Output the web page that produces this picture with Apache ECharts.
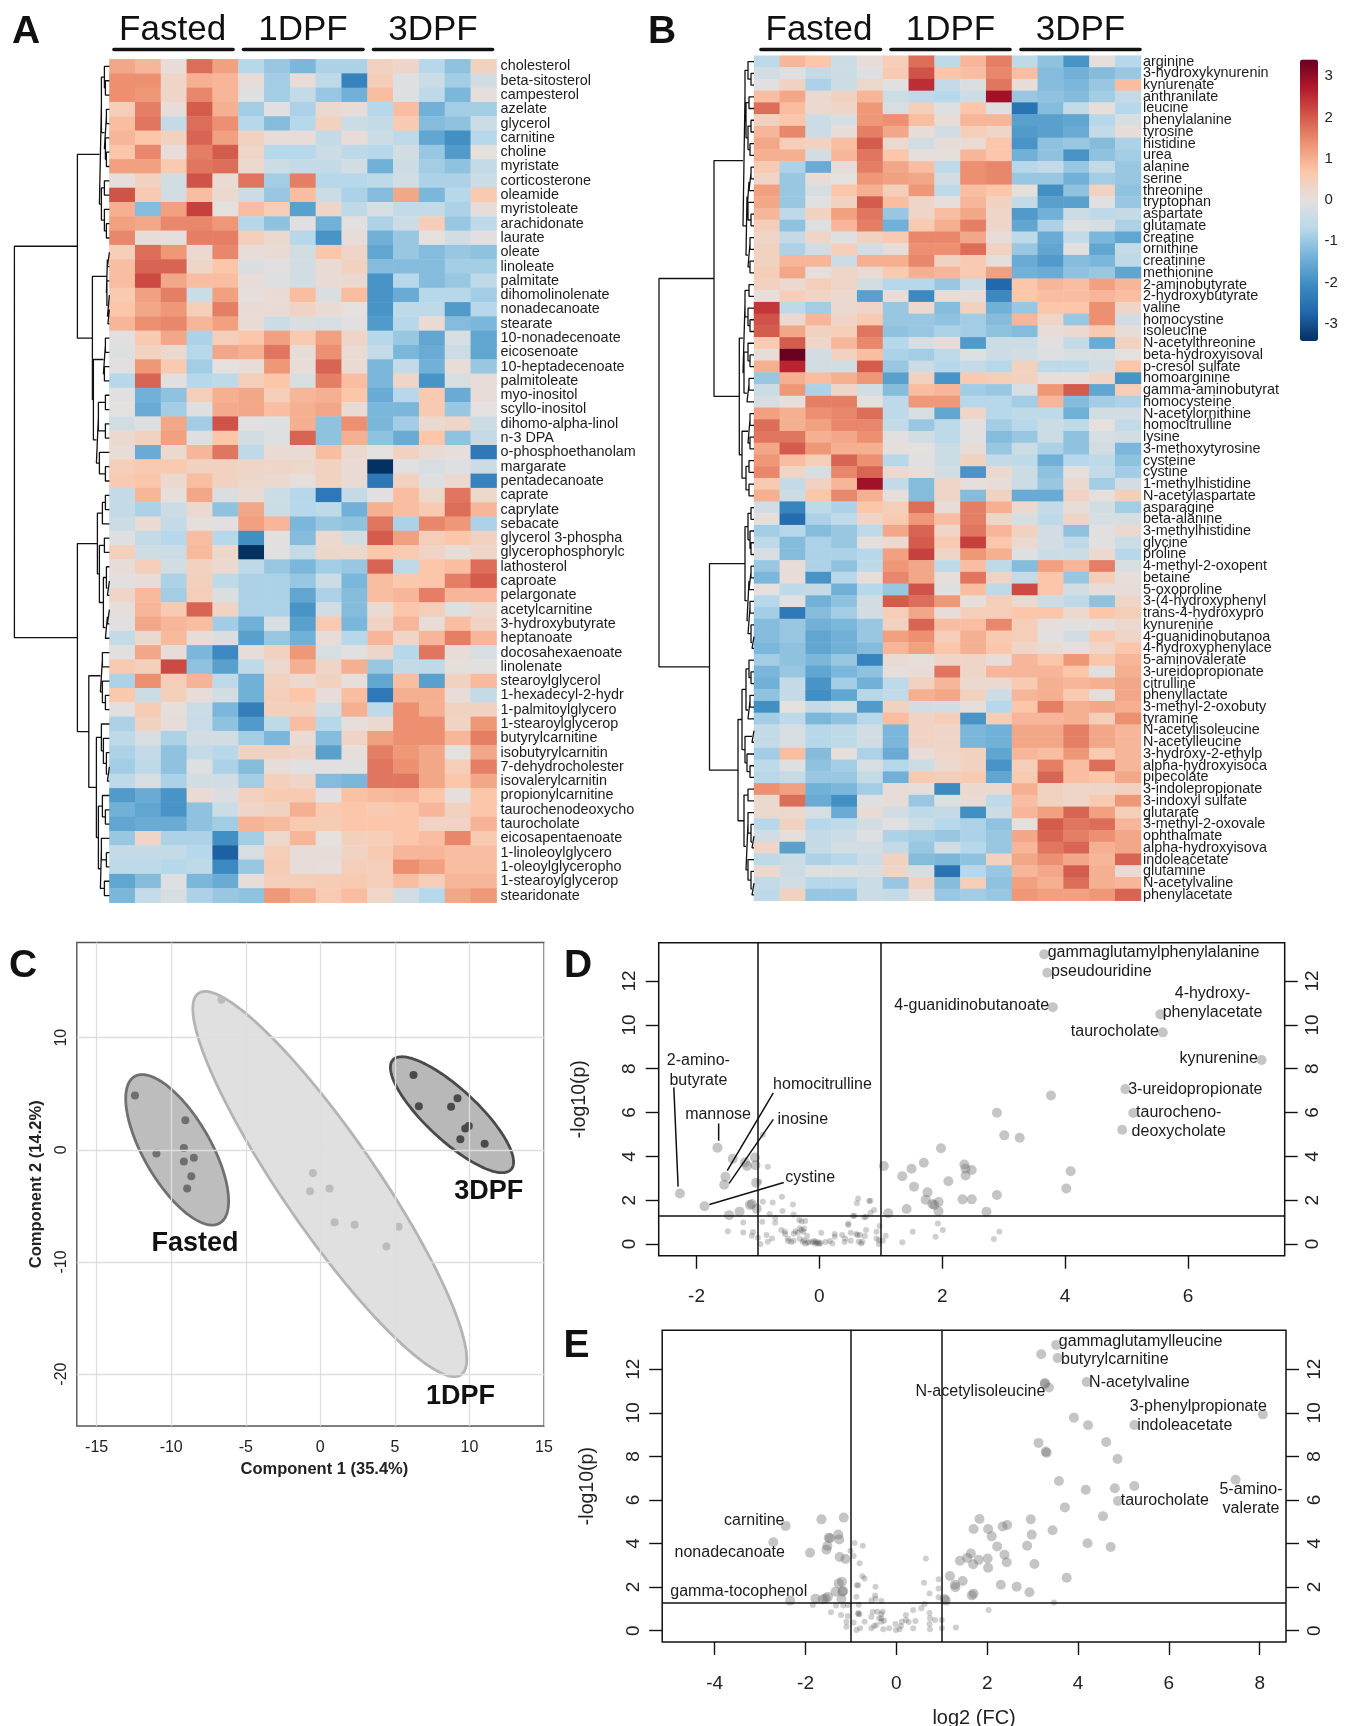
<!DOCTYPE html>
<html><head><meta charset="utf-8">
<style>html,body{margin:0;padding:0;background:#fff}#c{width:1351px;height:1726px}</style>
<script src="https://cdn.jsdelivr.net/npm/echarts@6/dist/echarts.min.js"></script>
</head><body><div id="c"></div>
<script>
const FONT='"Liberation Sans",Arial,sans-serif';
const colorStops=['#053061','#2166ac','#3d8cc2','#74b3d8','#b9d9ea','#e4e0de','#fbc7ab','#ee9373','#d2584a','#b2182b','#67001f'];
const groups=['Fasted','1DPF','3DPF'];
const rowsA=['cholesterol','beta-sitosterol','campesterol','azelate','glycerol','carnitine','choline','myristate','corticosterone','oleamide','myristoleate','arachidonate','laurate','oleate','linoleate','palmitate','dihomolinolenate','nonadecanoate','stearate','10-nonadecenoate','eicosenoate','10-heptadecenoate','palmitoleate','myo-inositol','scyllo-inositol','dihomo-alpha-linol','n-3 DPA','o-phosphoethanolam','margarate','pentadecanoate','caprate','caprylate','sebacate','glycerol 3-phospha','glycerophosphorylc','lathosterol','caproate','pelargonate','acetylcarnitine','3-hydroxybutyrate','heptanoate','docosahexaenoate','linolenate','stearoylglycerol','1-hexadecyl-2-hydr','1-palmitoylglycero','1-stearoylglycerop','butyrylcarnitine','isobutyrylcarnitin','7-dehydrocholester','isovalerylcarnitin','propionylcarnitine','taurochenodeoxycho','taurocholate','eicosapentaenoate','1-linoleoylglycero','1-oleoylglyceropho','1-stearoylglycerop','stearidonate'];
const heatA=[
[1.1,.9,.1,1.8,1.2,-.7,-1,-1.3,-.8,-.8,.4,.3,-.7,-1.1,.4],
[1.4,1.4,.3,1,.9,.1,-.9,.1,-.6,-2.2,.5,-.1,-.4,-.9,-.3],
[1.4,1.3,.3,1.5,.9,-.1,-.9,-.5,-1,-1.4,.8,-.1,-.6,-1.3,.05],
[.5,1.6,.1,2,1,-.9,-.05,-.8,.2,.1,-.7,.8,-1.4,-.9,-.9],
[.8,1.7,-.5,1.8,1.4,-.7,-1.2,-.7,.4,-.4,-.5,.6,-1.2,-1.1,-.4],
[.9,.7,.4,1.9,1.2,.4,.1,.1,-.5,.1,-.4,-.6,-1.6,-2,-.7],
[.7,1.5,.1,1.6,2,.3,-.7,-.7,-.4,-.6,-.7,-.3,-1,-1.8,0],
[1.2,1.2,.6,1.7,1.8,.2,-.4,-.5,-.5,-.3,-1.4,-.4,-.9,-1.1,-.5],
[.05,.4,-.3,2.1,.15,1.7,-.9,1.6,-.7,-.7,-.6,-.3,-.8,-.8,-.4],
[2.1,.6,-.3,.8,.2,-.4,-1,.8,-.4,-.8,-1.2,1.1,-1.3,-.7,.6],
[1,-1.2,1.2,2.3,0,.8,.5,-1.7,.3,-.6,-.2,-.5,-.5,-.8,.1],
[1.2,1.1,1.5,1.5,1.3,-.7,-1.1,-.05,-1.4,-.05,-.8,-.4,.5,-1,-.6],
[1.5,.1,.05,1.6,1.6,.5,.2,-.7,-1.9,.1,-1.4,-1,0,-.3,-.05],
[.5,1.8,1.3,.2,1.5,.1,.15,-.3,.7,.3,-1.6,-1,-1.2,-1,-1.1],
[.8,1.9,1.9,.3,.7,-.15,-.05,-.3,.15,.4,-1.2,-1.2,-1.2,-.9,-.9],
[.8,2.2,1.1,.8,.8,.1,-.1,-.3,.15,.2,-1.9,-.7,-1.2,-1,-.6],
[.6,1.2,1.6,-.4,1.2,.05,.15,.8,-.15,.8,-1.9,-1.5,-.7,-.7,-.9],
[.7,1.1,1.3,.5,1.6,.15,.15,.35,.15,.02,-1.9,-.6,-.6,-1.8,-.7],
[.9,1.4,1.5,.9,1.2,.15,-.4,-.15,-.2,-.05,-1.8,-.7,.15,-1.2,-1.3],
[-.05,.6,1.1,-.8,.5,.7,1.2,.6,1.2,.3,-.7,-1,-1.6,-.2,-1.6],
[-.1,.4,.2,-.7,1.1,1,1.7,.1,1.4,.15,-.5,-1.3,-1.5,-.4,-1.6],
[-.05,1.3,.6,-.9,0,.1,1.3,.1,1.9,.15,-1.3,-.5,-1.4,.1,-1],
[-.7,1.9,-.05,-.7,-.6,.5,.7,-.2,1.6,.8,-1.3,.3,-1.9,-.2,.1],
[-.05,-1.4,-1.1,.5,1,1.1,.5,.9,1,.7,-1.5,-.7,.6,-1.5,.1],
[0,-1.5,-.9,-.1,1.05,1.1,.8,1,1.1,.15,-1.3,-1.3,.6,-1,0],
[-.3,-.1,1.1,-.9,2.1,-.05,-.1,1,-1.1,1.4,-1.3,-.9,.2,.3,-.4],
[.2,.4,1.2,-.1,.7,-.3,-.1,1.9,-1.1,1,-1.1,-1.5,.7,-1.1,-.5],
[.1,-1.5,.2,.9,1.7,-.6,.15,.15,.8,.2,0,.4,.15,.05,-2.4],
[.5,.6,.6,.4,.4,.3,.3,.25,.4,.15,-3.4,-.05,-.2,-.1,-.4],
[.6,.7,.2,.8,.4,.25,.2,.05,.4,.15,-2.4,.4,-.1,.2,-2.2],
[-.5,.9,.05,1.1,-.15,.15,-.4,-.7,-2.4,-.5,-.05,.8,.25,1.7,.25],
[-.5,-.8,-.4,.2,-1.1,1.1,-.4,-.7,-.6,-1.4,1,.8,.6,1.8,.9],
[-.4,.15,-.5,.05,-.05,1.2,.9,-1.3,-1,-1.1,1.7,-.8,1.5,1.3,-.8],
[-.1,-.5,-.7,.8,-.7,-2,-.05,-1.2,.2,-.3,2,1.2,.5,.7,.4],
[.45,-.35,-.4,.85,.25,-3.4,-.05,-.5,.25,.25,.7,.6,.35,.1,.3],
[.1,.5,-.3,.4,.2,-.6,-1,-1.3,-.9,-1,1.9,-.6,.7,.8,1.8],
[-.05,.1,-.8,.45,-.6,-.8,-.8,-1,-.4,-1.3,.8,.65,.7,1.6,2],
[.3,.85,-.9,.5,-.15,-.8,-.8,-1.6,-.8,-1.2,.8,.9,1.6,.9,.9],
[.05,.9,.6,1.9,.35,-.8,-.8,-1.9,-.3,-1.2,.15,.7,.5,-.1,.2],
[-.05,1.1,.9,.8,-.9,-1.4,-.2,-1.7,.6,-1.3,.35,.9,.1,.8,.35],
[-.5,.2,.85,.1,-.15,-1.7,-1,-1.4,.1,-.7,.9,.3,.9,1.6,.9],
[-.05,1.1,.1,-1.3,-2.1,.1,.4,1.3,-.2,-.05,.3,-.7,1.7,.1,-.2],
[.6,.45,2.2,-1.1,-1.7,-.6,.2,1,.3,1,-1,-.5,-.6,.03,-.03],
[-.8,1.4,.5,.95,-.6,-1.4,.4,.2,.4,.05,-1.6,.8,-1.7,.4,.85],
[.65,-.4,.45,.1,-.3,-1.4,.5,.7,.1,.8,-2.4,1,1,.1,-.5],
[-.05,.55,.05,-.4,-1.3,-2.3,.45,.45,-.3,1,-.6,1.4,1,.4,.4],
[-.8,.4,.1,-.45,-1.1,-1.8,-.6,.8,-.7,.05,.2,1.4,1.4,.35,1.3],
[-.6,-.2,-.8,-.3,-.3,-.9,-1.3,.15,-1.2,.35,1.2,1.4,1.4,.9,1.6],
[-.8,-.5,-1.1,-.5,-.7,.4,.4,.3,-1.7,.05,1.6,1.3,1.1,0,1.1],
[-.9,-.6,-1.1,-.1,-.8,-1.2,.1,-.05,-.05,-.05,1.7,1.4,1.1,.5,1.6],
[-.6,-.2,-.8,-.3,-.3,-.9,.45,.3,-1.2,-1.3,1.7,1.7,1.1,.7,1.1],
[-1.8,-1.5,-1.9,.15,-.15,.4,.6,.6,-.05,.75,.85,.9,.7,.05,.7],
[-1.4,-1.6,-1.9,-1.1,-.4,.3,.4,1,.6,.7,.6,.7,.9,.4,.7],
[-1.6,-1.5,-1.5,-1.1,-.9,.95,.85,.6,.55,.7,.7,.7,.35,.35,.95],
[-1,.3,-.8,-.8,-2,-.9,.25,.9,0,.45,.5,.7,.8,1.5,.6],
[-.5,-.5,-.5,-.7,-2.8,-.2,.5,.1,.1,.35,.6,.9,.9,.8,.8],
[-.6,-.6,-.7,-.6,-2.1,-1,.55,.1,.05,.5,.5,1.4,1.2,.8,.8],
[-1.6,-1.2,-.1,-1.3,-1.5,.1,.5,.5,.55,.6,.5,.8,.5,.9,.9],
[-1.3,-.5,-.2,-.8,-1,-1.1,1.3,1,.6,.8,.3,-.3,-.7,1.1,1.3]];
const rowsB=['arginine','3-hydroxykynurenin','kynurenate','anthranilate','leucine','phenylalanine','tyrosine','histidine','urea','alanine','serine','threonine','tryptophan','aspartate','glutamate','creatine','ornithine','creatinine','methionine','2-aminobutyrate','2-hydroxybutyrate','valine','homocystine','isoleucine','N-acetylthreonine','beta-hydroxyisoval','p-cresol sulfate','homoarginine','gamma-aminobutyrat','homocysteine','N-acetylornithine','homocitrulline','lysine','3-methoxytyrosine','cysteine','cystine','1-methylhistidine','N-acetylaspartate','asparagine','beta-alanine','3-methylhistidine','glycine','proline','4-methyl-2-oxopent','betaine','5-oxoproline','3-(4-hydroxyphenyl','trans-4-hydroxypro','kynurenine','4-guanidinobutanoa','4-hydroxyphenylace','5-aminovalerate','3-ureidopropionate','citrulline','phenyllactate','3-methyl-2-oxobuty','tyramine','N-acetylisoleucine','N-acetylleucine','3-hydroxy-2-ethylp','alpha-hydroxyisoca','pipecolate','3-indolepropionate','3-indoxyl sulfate','glutarate','3-methyl-2-oxovale','ophthalmate','alpha-hydroxyisova','indoleacetate','glutamine','N-acetylvaline','phenylacetate'];
const heatB=[
[-.6,.9,.7,-.4,.1,.5,1.8,-.6,.9,1.6,-.6,-1.1,-1.9,.05,-.7],
[-.3,-.1,-.5,-.4,-.1,.6,2.1,.7,.8,1.5,.8,-1.2,-1.4,-1.2,-1],
[-.05,.4,-.8,-.4,.25,-.05,2.5,-.5,-.15,1.7,.1,-1.2,-1.3,-1,.8],
[.8,1.1,.2,.4,.9,-.4,-.6,-.7,-.35,2.9,-1,-1.1,-1.2,-.9,-.5],
[1.8,.8,.2,.3,1.3,-.2,.5,-.1,.7,-.1,-2.5,-1.2,-.5,.05,-.7],
[.4,.7,-.4,-.2,1.3,1.4,.8,.1,.9,.9,-1.7,-1.7,-1.6,-.7,-.2],
[.9,1.5,-.4,.1,1.6,1.1,.1,-.3,.5,.3,-1.8,-1.7,-1.5,-.5,.1],
[1.1,.5,.4,.8,2,.2,-.3,.1,.15,.7,-1.9,-1.1,-1,-1.2,-.8],
[1,1,-.3,.9,1.7,.7,.05,.05,.9,.7,-1.4,-1.1,-1.9,-1.1,-.9],
[.6,-.8,-1.5,.1,1.6,1.1,.8,-.6,1.4,1.5,-.7,-.5,-1,-.5,-1],
[.3,-1,.1,0,1.3,1.2,1.1,-.3,1.4,1.5,-1,-1,-1.4,-.9,-1],
[1.2,-1,-.2,.7,1,.5,1.3,-.6,.8,.7,.05,-2,-1.1,.4,-1.1],
[1.1,-1,-.05,.4,2,.8,.3,.05,.9,.4,-.5,-1.7,-1.7,-.05,-1],
[.9,-.6,.4,1.2,1.7,-1,.3,.8,1.1,.3,-1.8,-1.4,-.4,-.6,-.5],
[.5,-1.1,-.1,.9,1.6,-1.4,.6,1,1.6,.3,-1.6,-.8,-.1,-.2,-.8],
[.3,-.5,.3,-.1,.4,.6,1.5,1.5,1.1,.1,-.6,-1.5,-.5,-1.3,-1.6],
[.4,-.8,-.3,.5,-.3,.1,1.4,1.4,1.8,.4,-1,-1.6,-.05,-1.6,-.5],
[.4,.9,.9,-.4,1,1,1.5,.4,.6,.05,-1.5,-1.8,-1.2,-1.3,-.6],
[.5,1.1,.05,.3,.15,.6,1,.9,.6,1.2,-1.4,-1.5,-1.1,-1,-1.6],
[.4,.2,.5,.3,-.3,-.7,-.7,-1,-.4,-2.7,.7,.9,.8,1.2,.9],
[.05,.5,.3,.2,-1.7,.1,-2.1,.1,.1,-2.1,.7,.8,.8,.9,.8],
[2.4,-.6,-.9,.2,.3,-1,.2,-1.2,.4,-1.4,-1,.7,.7,1.4,.3],
[2.1,.2,.9,.3,.6,-1,-1,-1.1,-.9,-1.2,.9,.3,-1,1.4,-.3],
[2,1.1,.4,.5,1.7,-1.1,-1,-.8,-.9,-1.1,-1.2,.1,.2,.6,.1],
[.6,2,.3,.9,1.5,-.7,-.2,.1,-1.8,-.4,-.4,-.05,-.5,-1.5,.4],
[.1,3.4,-.3,.4,.8,-.8,-.9,-.6,-.1,-.4,-.3,-.1,-.2,-.2,0],
[1,2.6,-.3,-.3,2,-1,-.4,-.7,-.5,-.7,.4,-.6,-.6,-.3,.7],
[-1,1,.8,1,1.3,-1.7,.4,-1.9,.6,.5,.4,.05,.05,.3,-1.9],
[-.4,1.3,-.8,.3,-.3,-1.2,.8,.9,-.9,-1,-.2,1.3,2,-1.6,.5],
[-.2,0,1.6,1.6,0,-.6,1.3,1.3,-.7,-.7,-.9,.9,-1.2,-.9,-.8],
[1.2,1,1.4,1.5,1.8,-.6,-.2,-1.6,.3,-.7,-.6,-.6,-1.4,-.3,-.3],
[1.8,1,1.2,1.5,1.5,-.5,-1,-.6,-.05,-.9,-.7,-.4,-.6,.02,-.5],
[1.7,1.7,1,1.1,1.4,-.05,-.3,-.6,-.05,-1.2,-1,-.4,-1.1,-.2,-.3],
[1.1,2,1.3,1,1,.05,-.02,-.4,.1,-1,-.4,-.8,-1.1,-.3,-1.3],
[1.3,.8,.5,1.9,1.4,-.7,-.05,-.4,.4,-.5,-.6,-1.4,-.7,-.6,-1.1],
[1.5,.3,-.2,1.5,1.9,.2,.05,-.3,-1.9,.2,-.4,-1.1,.05,-.5,-.9],
[.6,-.5,.4,.9,2.9,-.5,-1.2,.3,.05,.1,-.4,-1,.2,-.9,-.3],
[1,-.4,.7,1.5,1,.05,-1.2,.3,-1.2,.4,-1.5,-1.5,.35,.05,.5],
[-.3,-2.2,-.6,-.8,.7,.5,1.8,.1,1.6,1,.2,-.5,.1,-.3,-.9],
[.05,-2.6,-.8,-.6,.3,.6,1.3,.8,1.6,.3,-.2,-.6,.3,-.2,-.2],
[-.9,-.7,-1.2,-1,-.6,1.1,1.9,.3,1.7,.9,.4,-.3,-1.1,-.05,.2],
[-.6,-1.2,-.8,-1,.05,.2,2,.6,2.3,.7,.2,-.3,-.6,-.05,-.4],
[-.2,-1.2,-.8,-.8,-.7,1.2,2.3,.3,1.3,1,-.1,-.4,-.4,.2,-.7],
[-1,.1,-.8,-1.1,-.6,1.3,1.1,-.6,.8,-.6,-1.2,1.2,.9,1.6,-.2],
[-1.3,.1,-1.9,-.7,.05,1.5,1.1,.05,1.7,.35,-.5,.7,-1,.5,.05],
[.02,-.6,-.5,-1.4,-.7,-1,2.1,-.1,.8,-.6,2.2,.7,-.3,.1,.1],
[-.7,-.05,-1.4,-1.1,-.3,2,1.8,1.3,.05,.5,.2,-.4,-.6,-1.1,.3],
[-.9,-2.4,-1.2,-.9,-.3,.5,1.1,.1,.5,.5,.7,.7,.2,.7,.5],
[-1.2,-1,-1.4,-1.3,-1,.4,1.9,.8,.8,1.5,.5,.05,-.03,.03,.2],
[-1.2,-1,-1.6,-1.4,-1,1.2,1.4,.5,1,.6,.5,-.05,-.3,.6,.3],
[-1.3,-1.1,-1.6,-1.4,-1.2,.9,1.2,.7,1,.7,.3,.15,.05,.3,.7],
[-.9,-1.1,-1.3,-1,-2.2,.15,.05,.3,.3,.1,.9,.7,1.3,.7,.9],
[-1.3,-1,-1.6,-1.3,-1.1,.05,.1,1.7,.3,.9,.9,.9,.7,-.05,1],
[-1.4,-.5,-1.9,-.9,-1.4,-.6,.4,.9,.2,.2,.6,1,.9,1,1.1],
[-1.1,-.5,-2,-1.6,-.7,-.5,1,1.1,.4,-.4,.9,1,.6,.1,1.1],
[-2,0,-.5,-.2,-1.8,.4,-.3,-.3,.05,-.7,.7,1.6,1,1.1,1],
[-.9,-.6,-1.3,-1.1,-.7,.8,.35,.5,-1.9,.5,.9,.9,1,.5,1.4],
[-.5,-.2,-.7,-.6,-.3,-1.3,.35,.3,-1.3,-1.4,1.1,1.1,1.6,1.1,.9],
[-.5,-.2,-.7,-.6,-.3,-1.3,.35,.3,-1.3,-1.4,1.1,1.1,1.6,1.1,.9],
[-.9,.8,-1.2,.05,-.8,-1.5,.1,.3,.4,-1.6,.9,.8,1.3,.6,.9],
[-.6,-.1,-1.1,-.9,-.2,-.7,-.4,.2,.4,-1.9,.5,1.6,.8,1.8,.9],
[-.7,-.5,-1,-1,-.5,-1.4,.6,.5,.6,-1.6,.6,1.9,.8,.7,1.1],
[1.4,1.2,-1.4,-1.3,-.9,.1,.05,-2.1,.2,.2,1,.4,.3,.3,.4],
[.2,1.8,-1.5,-2,-.1,.1,-1,-.1,.15,-.6,.8,.4,.3,.6,1.3],
[.2,.25,-.2,-1.5,.15,-.3,-.6,-.5,-2,-.4,.9,1.2,1.9,1.2,.5],
[-.7,.4,-.7,-.6,-.3,-.05,-.4,-.7,-.8,-1.1,.05,2,1.7,1.8,.9],
[-.3,.05,-.5,-.4,-.1,-.8,-.9,-1,-.8,-1,1.1,1.9,1.6,1.4,1.1],
[.3,-1.7,-.5,-.3,-.3,-.5,-1,-.3,-.7,-1,.9,1.7,1.9,1,1.1],
[-.6,-.4,-.8,-.7,-.4,.4,-1.2,-1.3,-1.1,.4,1.1,1.4,1.1,.9,1.9],
[.2,-.4,-.1,-.1,-.2,.3,-.2,-2.5,-.7,-1,.9,1.1,2,1,.15],
[-.5,-.3,-.7,-.7,-.4,-1,.4,-1.2,.5,-1.1,1.2,1,1.8,1,.9],
[-.6,.4,-1,-1,-.4,-.5,.1,-1,-.9,-1,1.3,1.2,1.2,1.3,1.9]];
// dendrograms: nodes are [height, left, right], 0 is a leaf
const treeA=[95,
 [32,
  [10,[8,[5,0,[4,0,0]],[5,[3,0,0],[4,0,[3,0,0]]]],[8,[5,0,0],[5,0,[3,0,0]]]],
  [17,[3,[2,0,0],[2.5,0,[2,0,[1.5,0,0]]]],[16,[6,[4,0,0],[5,0,0]],[13,[11,[4,0,0],[4,0,0]],[10,0,[4,0,0]]]]]],
 [32,
  [12,[7,[4,0,0],0],[10,[5,0,0],[6,[3,0,[2,0,0]],[4,[2,0,0],0]]]],
  [20.6,[9,[7,0,0],[7,0,[4,0,0]]],[13,[8,0,[6,0,[3,0,[2,0,0]]]],[11,[7,0,[4,0,0]],[9,[8,0,[3,0,0]],[5,0,0]]]]]]];
const treeB=[95,
 [40,
  [11,[9,[6,0,[3,0,0]],[8,[5,0,0],[6,[3,0,0],[4,0,0]]]],[8,[7,[5,[3,0,0],0],[6,0,[3,0,0]]],[6,[4,0,0],[4,0,0]]]],
  [14.7,[11,[9,[5,0,0],[6,0,[4,0,0]]],[10,[6,0,[4,0,0]],[7,[5,0,0],0]]],[12,[6,[4,0,0],[4,0,0]],[8,[5,0,0],[5,0,0]]]]],
 [44.5,
  [9,[6,[3,0,0],[4,0,[3,0,0]]],[7,[5,[3,0,0],0],[6,[4,0,0],[3,0,[2,0,0]]]]],
  [16,[12,[8,[5,0,[3,0,0]],[6,[4,0,0],0]],[9,[2,0,0],[7,0,[4,0,0]]]],[10,[6,0,0],[8,[6,0,[3,0,[2,0,0]]],[6,0,[3,0,[2,0,0]]]]]]]];
// PCA scores
const pcaFasted=[[-12.43,4.84],[-9.05,2.64],[-9.15,.16],[-10.99,-.32],[-9.15,-1.05],[-8.48,-.7],[-8.65,-2.35],[-8.93,-3.44]];
const pca1DPF=[[-6.63,13.39],[-.5,-2.07],[-.69,-3.69],[.62,-3.44],[.96,-6.46],[2.3,-6.68],[5.25,-6.87],[4.43,-8.62]];
const pca3DPF=[[6.25,6.68],[6.61,3.88],[8.77,3.85],[9.2,4.61],[9.96,2.13],[9.72,1.91],[9.39,.95],[11.02,.54]];
// ellipses: centre x, centre y, half-width, half-height, correlation
const ellFasted=[-9.6,0,3.45,6.71,-.68];
const ell1DPF=[.635,-3.05,9.185,17.18,-.91];
const ell3DPF=[8.83,3.13,4.13,5.17,-.816];
const pcaXTicks=[-15,-10,-5,0,5,10,15], pcaYTicks=[-20,-10,0,10];
// volcano D
const dSig=[[3.66,13.22],[3.71,12.38],[3.8,10.81],[5.55,10.48],[5.59,9.66],[7.2,8.4],[4.98,7.07],[5.11,5.98],[4.93,5.22],[3.77,6.78],[2.89,5.99],[3.01,4.96],[3.26,4.85],[1.98,4.37],[4.09,3.32],[4.02,2.54],[1.7,3.71],[1.5,3.44],[1.05,3.56],[1.35,3.1],[2.36,3.63],[2.38,3.44],[2.48,3.38],[2.38,3.13],[2.1,2.87],[1.54,2.62],[1.76,2.36],[1.73,2.02],[1.94,1.92],[1.84,1.83],[1.87,1.78],[2.33,2.04],[2.48,2.04],[2.89,2.24],[1.42,1.6],[1.94,1.5],[2.72,1.48],[1.12,1.41],[-2.27,2.31],[-1.87,1.73],[-1.66,4.4],[-1.53,3.07],[-1.55,2.71],[-1.41,3.89],[-1.21,3.73],[-1.18,3.56],[-1.05,3.95],[-1.04,3.6],[-1.03,2.8],[-1.1,1.83],[-1.13,1.78],[-1.02,1.61],[-1.3,1.48],[-1.47,1.32]];
const dNon=[[-.84,3.53],[-.92,4.99],[-.98,2.84],[-.92,1.93],[-.76,1.9],[-.61,2.16],[-.43,1.81],[-.6,1.51],[-.42,1.35],[-.81,1.37],[-.72,1.2],[-.93,1.02],[-.72,.97],[-1.24,.99],[-.33,1.1],[-.29,1.03],[-.23,1.05],[-1.49,.58],[-1.24,.53],[-1.08,.55],[-1.1,.38],[-1,.29],[-.86,.41],[-.77,.26],[-.84,.11],[-.96,0],[-.62,.64],[-.56,.56],[-.56,.46],[-.51,.26],[-.39,.59],[-.32,.71],[-.29,.64],[-.25,.71],[-.42,.47],[-.35,.52],[-.26,.56],[-.2,.37],[-.51,.14],[-.46,.09],[-.42,.15],[-.32,.24],[-.25,.18],[-.23,.03],[-.17,.11],[-.11,.08],[-.06,.11],[-.02,.08],[.02,.05],[-.09,.14],[.1,.09],[.17,.14],[.21,.03],[.03,.52],[.25,.46],[.25,.33],[.37,.41],[.42,.26],[.41,.09],[.51,.15],[.64,.11],[.68,.03],[.62,.41],[.51,.52],[.47,.87],[.47,.94],[.55,1.28],[.57,1.29],[.73,1.22],[.76,1.25],[.61,1.86],[.63,2.08],[.81,1.96],[.83,1.98],[.89,1.55],[.83,1.43],[.98,.82],[.93,.56],[.93,.26],[.97,.18],[1.08,.38],[.97,0],[1.03,.15],[1.35,.08],[1.52,.56],[1.89,.33],[1.93,.94],[2.01,.64],[2.84,.23],[2.93,.56],[.74,.37],[.76,.64],[.66,.41],[.6,.46],[.7,.11],[-.27,.11],[-.19,.06],[-.07,.03],[-.03,.03],[0,.02]];
const dLabels=[['gammaglutamylphenylalanine',5.44,13.31],['pseudouridine',4.59,12.44],['4-hydroxy-',6.4,11.44],['phenylacetate',6.4,10.54],['taurocholate',4.81,9.69],['4-guanidinobutanoate',2.48,10.86],['kynurenine',6.5,8.47],['3-ureidopropionate',6.12,7.04],['taurocheno-',5.85,5.99],['deoxycholate',5.85,5.14],['2-amino-',-1.97,8.35],['butyrate',-1.97,7.47],['mannose',-1.65,5.92],['homocitrulline',.05,7.29],['inosine',-.27,5.69],['cystine',-.15,3.03]];
const dLeaders=[[[-2.37,7.15],[-2.3,2.62]],[[-1.64,5.5],[-1.64,4.71]],[[-.75,6.9],[-1.5,3.35]],[[-.75,5.69],[-1.47,2.77]],[[-.58,2.81],[-1.79,1.81]]];
const dXTicks=[-2,0,2,4,6], volY=[0,2,4,6,8,10,12];
// volcano E
const eSig=[[3.52,13.12],[3.55,12.52],[3.19,12.69],[3.27,11.37],[3.27,11.33],[3.36,11.16],[4.19,11.42],[8.07,9.93],[5.24,9.44],[3.91,9.78],[4.22,9.43],[4.62,8.66],[3.13,8.62],[3.29,8.22],[3.31,8.17],[4.87,7.88],[7.47,6.93],[3.58,6.87],[4.17,6.47],[4.81,6.54],[5.24,6.64],[4.88,5.95],[3.71,5.66],[4.55,5.25],[2.96,5.11],[1.83,5.13],[1.7,4.67],[2.02,4.67],[2.34,4.78],[2.44,4.85],[2.1,4.33],[2.98,4.41],[3.44,4.61],[4.21,4.01],[4.72,3.84],[2.88,3.9],[2.22,3.86],[1.64,3.54],[2.38,3.49],[1.56,3.34],[1.4,3.21],[1.81,3.25],[2.01,3.31],[1.69,3.05],[2.43,3.14],[3.04,3.06],[2.02,2.89],[3.75,2.43],[1.18,2.51],[1.46,2.28],[1.29,2.11],[1.3,1.99],[2.3,2.11],[2.65,2.02],[2.93,1.76],[1.7,1.7],[1.66,1.62],[1.06,1.45],[1.09,1.38],[-2.44,4.81],[-2.71,4.06],[-1.9,3.58],[-1.65,5.11],[-1.16,5.19],[-1.49,4.27],[-1.46,4.24],[-1.28,4.41],[-1.26,4.19],[-1.52,3.89],[-1.54,3.72],[-1.25,3.38],[-1.12,3.29],[-1.2,2.25],[-1.27,2.17],[-1.19,1.79],[-1.17,1.82],[-1.34,1.79],[-1.51,1.55],[-1.56,1.48],[-1.78,1.47],[-1.62,1.44],[-1.21,1.45],[-2.34,1.38]];
const eNon=[[-.92,4.03],[-.74,3.9],[-1.01,3.67],[-.94,3.43],[-.81,3.09],[-.75,2.5],[-.7,2.4],[-.87,2.08],[-.84,2.08],[-.46,2.02],[-.88,1.56],[-.47,1.61],[-.46,1.47],[-.55,1.38],[-.33,1.36],[-1.84,1.18],[-1.33,1.16],[-1.17,1.15],[-1.07,1.18],[-.83,1.19],[-1.44,.84],[-1.22,.72],[-1.07,.67],[-.84,.81],[-.81,.75],[-.52,.87],[-.42,.87],[-.3,.87],[-.33,.77],[-.55,.64],[-.33,.57],[-.27,.46],[.21,.72],[.37,.95],[.55,1.03],[.62,1.22],[.73,.81],[.74,.57],[.85,.49],[1,.49],[.73,.31],[.74,.06],[1,.11],[1.31,.15],[2.03,.95],[3.47,1.29],[.65,3.31],[.93,2.36],[.61,2.2],[.93,1.94],[.73,1.71],[.93,1.53],[-1.1,.41],[-1.1,.18],[-.94,.37],[-.88,.03],[-.8,.11],[-.7,.41],[-.55,.11],[-.49,.21],[-.44,.26],[-.29,.06],[-.16,.11],[-.01,.03],[.07,.06],[-.02,.31],[.1,.21],[.12,.41],[.21,.49],[.27,.4],[.42,.44],[.37,.11],[-.33,.41],[-.38,.57],[-.84,.77]];
const eLabels=[['gammaglutamylleucine',5.38,13.27],['butyrylcarnitine',4.81,12.46],['N-acetylisoleucine',1.85,10.99],['N-acetylvaline',5.35,11.37],['3-phenylpropionate',6.65,10.3],['indoleacetate',6.35,9.41],['taurocholate',5.91,5.97],['5-amino-',7.81,6.46],['valerate',7.81,5.6],['carnitine',-3.13,5.07],['nonadecanoate',-3.67,3.58],['gamma-tocophenol',-3.47,1.81]];
const eXTicks=[-4,-2,0,2,4,6,8];
const fcCut=[-1,1], pCut=1.3;
const barTicks=[-3,-2,-1,0,1,2,3];

const grids=[],xAxes=[],yAxes=[],series=[];
function addGrid(g,xa,ya){const i=grids.length;grids.push(Object.assign({containLabel:false,outerBoundsMode:'none'},g));
  xa=[].concat(xa);ya=[].concat(ya);
  xa.forEach(a=>xAxes.push(Object.assign({gridIndex:i},a)));
  ya.forEach(a=>yAxes.push(Object.assign({gridIndex:i},a)));
  return {x:xAxes.length-xa.length,y:yAxes.length-ya.length};}
const px=(l,t,r,b)=>({left:l,top:t,width:r-l,height:b-t});
function heat(rows,vals,rect,labMargin){
  const idx=addGrid(px(...rect),
    {type:'category',data:[...Array(15).keys()],show:false},
    {type:'category',data:rows.map((_,i)=>i),inverse:true,position:'right',axisLine:{show:false,onZero:false},axisTick:{show:false},
     axisLabel:{interval:0,margin:labMargin,fontSize:14.4,fontFamily:FONT,color:'#1c1c1c',padding:[4,0,0,0],formatter:(v)=>rows[+v]}});
  const d=[];vals.forEach((r,i)=>r.forEach((v,j)=>d.push([j,i,v])));
  series.push({type:'heatmap',xAxisIndex:idx.x,yAxisIndex:idx.y,data:d,progressive:0,itemStyle:{borderWidth:0},emphasis:{disabled:true}});
  return series.length-1;
}
function dend(tree,n,rect,hMax,w){
  const idx=addGrid(px(...rect),
    {type:'value',min:0,max:hMax,inverse:true,show:false},
    {type:'value',min:0,max:n,inverse:true,show:false});
  let c=0;const pts=[];
  (function walk(t){ if(t===0){return {h:0,y:(c++)+.5};}
    const a=walk(t[1]),b=walk(t[2]);
    pts.push([a.h,a.y],[t[0],a.y],[t[0],b.y],[b.h,b.y],['-','-']);
    return {h:t[0],y:(a.y+b.y)/2};})(tree);
  series.push({type:'line',xAxisIndex:idx.x,yAxisIndex:idx.y,data:pts,symbol:'none',connectNulls:false,silent:true,lineStyle:{color:'#111',width:w}});
}
const hA=heat(rowsA,heatA,[109.4,59.3,496.6,902.7],4);
dend(treeA,59,[14,59.3,109.4,902.7],95.4,1.3);
const hB=heat(rowsB,heatB,[754,55.7,1141,900.7],2);
dend(treeB,72,[659,55.7,754,900.7],95,1.3);
// colour bar tick labels
addGrid(px(1300.4,59.3,1318.4,340.7),{type:'value',show:false,min:0,max:1,axisLine:{onZero:false}},
  {type:'value',position:'right',min:-3.41,max:3.41,axisLine:{show:false,onZero:false},axisTick:{show:false},splitLine:{show:false},
   axisLabel:{customValues:barTicks,margin:6,fontSize:15,fontFamily:FONT,color:'#222'}});
series.push({type:'scatter',xAxisIndex:xAxes.length-1,yAxisIndex:yAxes.length-1,data:[],silent:true});

// text labels positioned in data units
function textSeries(idx,list,font,color,z){
  series.push({type:'custom',xAxisIndex:idx.x,yAxisIndex:idx.y,silent:true,z:z||5,clip:false,data:list.map(l=>[l[1],l[2],l[0]]),
    encode:{x:0,y:1},
    renderItem:(p,api)=>{const c=api.coord([api.value(0),api.value(1)]);
      return {type:'text',x:c[0],y:c[1],style:{text:list[p.dataIndex][0],align:'center',verticalAlign:'middle',font:font,fill:color}};}});
}
// PCA
const pcaIdx=addGrid(Object.assign(px(76.8,942.5,544,1426),{show:true,borderColor:'#555',borderWidth:1.4,backgroundColor:'#fff'}),
  {type:'value',min:-16.33,max:15,axisLine:{show:false,onZero:false},axisTick:{show:false,customValues:pcaXTicks},
   splitLine:{show:false},
   axisLabel:{customValues:pcaXTicks,showMinLabel:true,showMaxLabel:true,margin:14,fontSize:16,fontFamily:FONT,color:'#222'},
   name:'Component 1 (35.4%)',nameLocation:'middle',nameGap:35,nameTextStyle:{fontSize:16.5,fontWeight:'bold',fontFamily:FONT,color:'#222',padding:[0,0,0,28]}},
  {type:'value',min:-24.63,max:18.49,axisLine:{show:false,onZero:false},axisTick:{show:false,customValues:pcaYTicks},
   splitLine:{show:false},
   axisLabel:{customValues:pcaYTicks,rotate:90,margin:7,fontSize:16,fontFamily:FONT,color:'#222'},
   name:'Component 2 (14.2%)',nameLocation:'middle',nameGap:32,nameRotate:90,nameTextStyle:{fontSize:16.5,fontWeight:'bold',fontFamily:FONT,color:'#222'}});
const gridLineData=[...pcaXTicks.map(v=>({xAxis:v})),...pcaYTicks.map(v=>({yAxis:v}))];
series.push({type:'scatter',xAxisIndex:pcaIdx.x,yAxisIndex:pcaIdx.y,data:[],silent:true,z:0,
  markLine:{silent:true,symbol:'none',label:{show:false},lineStyle:{color:'#dedede',width:1.3,type:'solid'},data:gridLineData,animation:false}});
function ellipse(e,fill,stroke){
  series.push({type:'custom',xAxisIndex:pcaIdx.x,yAxisIndex:pcaIdx.y,silent:true,z:2,data:[[e[0],e[1]]],encode:{x:0,y:1},
    renderItem:(p,api)=>{const pts=[],phi=Math.acos(e[4]);
      for(let i=0;i<180;i++){const t=i/180*2*Math.PI;pts.push(api.coord([e[0]+e[2]*Math.cos(t),e[1]+e[3]*Math.cos(t+phi)]));}
      return {type:'polygon',shape:{points:pts},style:{fill:fill,stroke:stroke,lineWidth:2.8}};}});
}
ellipse(ellFasted,'#bdbdbd','#707070');
ellipse(ell1DPF,'#e0e0e0','#b4b4b4');
ellipse(ell3DPF,'#b8b8b8','#4a4a4a');
[[pcaFasted,'#6f6f6f'],[pca1DPF,'#bcbcbc'],[pca3DPF,'#4a4a4a']].forEach(([d,c])=>series.push({type:'scatter',xAxisIndex:pcaIdx.x,yAxisIndex:pcaIdx.y,data:d,symbolSize:8,z:3,silent:true,itemStyle:{color:c,opacity:1}}));
textSeries(pcaIdx,[['Fasted',-8.4,-8.4],['3DPF',11.3,-3.75],['1DPF',9.4,-22],],'bold 27px '+FONT,'#111');

// volcanoes
function volcano(rect,xr,yr,xt,sig,non,labels,leaders,xname,nameX){
  const axFont={fontSize:19,fontFamily:FONT,color:'#222'};
  const tick={show:true,inside:false,length:13,lineStyle:{color:'#111',width:1.4}};
  const yAx=(pos)=>({type:'value',position:pos,min:yr[0],max:yr[1],splitLine:{show:false},
     axisLine:{show:false,onZero:false},axisTick:Object.assign({customValues:volY},tick),
     axisLabel:Object.assign({customValues:volY,rotate:90,margin:19},axFont)});
  const idx=addGrid(Object.assign(px(...rect),{show:true,borderColor:'#111',borderWidth:1.5,backgroundColor:'transparent'}),
    Object.assign({type:'value',min:xr[0],max:xr[1],splitLine:{show:false},axisLine:{show:false,onZero:false},
      axisTick:Object.assign({customValues:xt},tick),
      axisLabel:Object.assign({customValues:xt,margin:32},axFont)},
      xname?{name:xname,nameLocation:'middle',nameGap:66,nameTextStyle:{fontSize:20,fontFamily:FONT,color:'#222'}}:{}),
    [Object.assign(yAx('left'),{name:'-log10(p)',nameLocation:'middle',nameRotate:90,nameGap:nameX,nameTextStyle:{fontSize:19.5,fontFamily:FONT,color:'#222'}}),yAx('right')]);
  series.push({type:'scatter',xAxisIndex:idx.x,yAxisIndex:idx.y,data:non,symbolSize:6,silent:true,z:2,itemStyle:{color:'rgba(70,70,70,0.32)'}});
  series.push({type:'scatter',xAxisIndex:idx.x,yAxisIndex:idx.y,data:sig,symbolSize:10,silent:true,z:2,itemStyle:{color:'rgba(110,110,110,0.5)'},
    markLine:{silent:true,symbol:'none',label:{show:false},animation:false,lineStyle:{color:'#111',width:1.5,type:'solid'},
      data:[...fcCut.map(v=>({xAxis:v})),{yAxis:pCut}]}});
  if(leaders){const pts=[];leaders.forEach(s=>pts.push(s[0],s[1],['-','-']));
    series.push({type:'line',xAxisIndex:idx.x,yAxisIndex:idx.y,data:pts,symbol:'none',silent:true,z:3,connectNulls:false,lineStyle:{color:'#111',width:1.5}});}
  textSeries(idx,labels,'16px '+FONT,'#1a1a1a');
}
volcano([658.7,942.7,1284.7,1255.7],[-2.616,7.575],[-.53,13.75],dXTicks,dSig,dNon,dLabels,dLeaders,null,69);
volcano([662.2,1330.3,1286,1642],[-5.157,8.58],[-.521,13.79],eXTicks,eSig,eNon,eLabels,null,'log2 (FC)',65);

// headers
function head(cx,cy,t,font){return {type:'text',x:cx,y:cy,style:{text:t,font:font,fill:'#111',align:'center',verticalAlign:'middle'}};}
function bar(x1,x2){return {type:'line',shape:{x1:x1,y1:49.5,x2:x2,y2:49.5},style:{stroke:'#111',lineWidth:3.6,lineCap:'round'}};}
const hf='35px '+FONT, pf='bold 39px '+FONT;
const graphics=[
 head(172.6,30,groups[0],hf),head(303,30,groups[1],hf),head(433,30,groups[2],hf),
 head(819,30,groups[0],hf),head(950.4,30,groups[1],hf),head(1080.5,30,groups[2],hf),
 bar(114,233),bar(243.5,363),bar(373.5,492.5),bar(761,880.5),bar(891,1010),bar(1021,1140),
 head(26,32,'A',pf),head(662,32,'B',pf),head(23,966,'C',pf),head(578,966,'D',pf),head(576.5,1346,'E',pf)];

const chart=echarts.init(document.getElementById('c'),null,{width:1351,height:1726});
chart.setOption({animation:false,backgroundColor:'#fff',textStyle:{fontFamily:FONT},
  grid:grids,xAxis:xAxes,yAxis:yAxes,series:series,graphic:graphics,
  visualMap:[{type:'continuous',seriesIndex:[hA,hB],dimension:2,min:-3.41,max:3.41,calculable:false,realtime:false,
    left:1285,top:44.5,itemWidth:18,itemHeight:281.4,text:null,showLabel:false,inRange:{color:colorStops},textStyle:{fontSize:0},
    hoverLink:false}]});
</script></body></html>
